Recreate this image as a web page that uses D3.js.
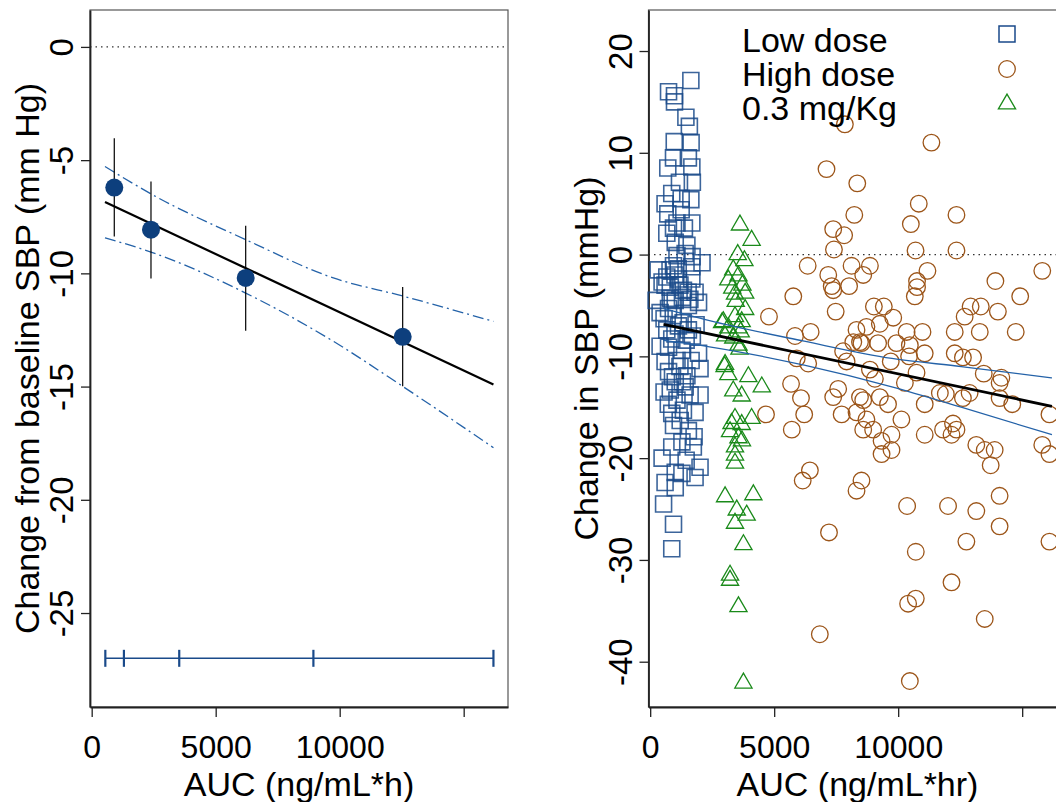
<!DOCTYPE html>
<html>
<head>
<meta charset="utf-8">
<script src="https://cdn.jsdelivr.net/npm/d3@7"></script>
<style>
  body { margin: 0; background: #fff; }
  text { font-family: "Liberation Sans", Arial, sans-serif; fill: #000; }
</style>
</head>
<body>
<div class="canvas"></div>
<script>
// ---- data ----
// left panel: quartile bins of AUC
const binAUC = [911, 2391, 6210, 12540]
const binMean = [-6.21, -8.07, -10.2, -12.8]
const binLow = [-8.37, -10.23, -12.53, -14.99]
const binHigh = [-4.03, -5.94, -7.9, -10.6]
const binEdges = [550, 1300, 3530, 8940, 16200]
const rugLevel = -27

// linear fit and its confidence band
const fitX = [536, 16200]
const fitY = [-6.85, -14.91]
const bandX = [536, 2391, 6210, 9745, 12540, 16200]
const bandUpper = [-5.28, -6.49, -8.51, -10.2, -11.0, -12.12]
const bandLower = [-8.43, -9.06, -10.87, -13.0, -14.99, -17.70]

// right panel: individual subjects [AUC, change]
const lowDose = [[1640,17.1],[740,16.0],[980,15.6],[980,15.0],[1440,13.5],[1580,12.6],[970,11.1],[1650,11.0],[940,9.5],[1540,9.5],[710,8.5],[1680,8.6],[1180,7.1],[1700,7.1],[870,6.0],[600,5.0],[1250,5.5],[1640,5.4],[710,4.0],[1250,4.4],[1080,3.1],[1680,3.1],[670,2.1],[940,2.6],[1380,2.6],[1010,1.2],[1480,0.9],[1080,-0.1],[1410,0.1],[940,-1.1],[1680,-1.2],[670,-2.2],[1140,-2.4],[1680,-2.4],[810,-3.2],[1340,-3.5],[1950,-4.7],[1010,-4.5],[740,-5.3],[1540,-5.0],[670,-7.4],[1140,-7.0],[1540,-7.4],[870,-8.3],[1950,-9.7],[740,-9.1],[1280,-9.4],[1080,-10.4],[2010,-11.2],[740,-11.5],[1480,-11.9],[1010,-12.5],[810,-13.3],[1410,-13.0],[1080,-14.3],[1810,-15.5],[870,-15.6],[1340,-15.3],[940,-16.8],[1540,-17.3],[870,-18.9],[1740,-18.9],[1280,-18.4],[2010,-20.9],[1010,-21.4],[1810,-21.9],[600,-22.4],[1280,-21.5],[1010,-22.9],[540,-24.5],[940,-26.5],[870,-28.9],[480,-2.7],[1530,-3.7],[810,-4.3],[1810,-3.7],[2090,-0.8],[320,-1.5],[560,-6.3],[1850,-6.9],[400,-9.0],[1650,-10.4],[1330,-6.7],[930,-6.0],[2010,-13.8],[730,-14.7],[1610,-13.8],[1210,-16.3],[1130,-1.4],[1690,-0.2],[400,-5.7],[1450,-8.4],[560,-13.5],[1770,-17.9],[480,-20.0],[1450,-20.2],[240,-4.5],[600,-3.0],[1200,-3.0],[1000,-2.0],[1600,-4.4],[800,-1.5],[1300,-4.2],[600,-10.5],[1200,-11.0],[900,-12.0],[1700,-8.0],[1000,-7.8],[1300,-12.5]]

const highDose = [[7850,12.8],[7110,8.4],[8350,7.0],[8230,3.9],[7380,2.5],[7820,1.9],[7410,0.5],[6350,-1.1],[7180,-2.0],[8120,-1.1],[7320,-3.1],[8020,-3.1],[8590,-2.0],[5770,-4.1],[7480,-5.6],[4790,-6.1],[5840,-8.0],[6470,-7.6],[8190,-8.6],[8460,-8.6],[5910,-10.2],[6370,-10.7],[7920,-10.5],[5680,-12.7],[6080,-14.1],[4670,-15.7],[6210,-15.7],[5710,-17.2],[7380,-14.0],[7580,-13.2],[7720,-15.7],[8460,-14.0],[8320,-15.5],[8590,-17.2],[6150,-22.2],[6440,-21.2],[8320,-23.2],[8520,-22.2],[7210,-27.3],[6840,-37.3],[11340,11.0],[10830,5.0],[12350,3.9],[10510,3.0],[10700,0.4],[12350,0.4],[8860,-1.1],[11180,-1.6],[10760,-2.6],[10760,-3.2],[10670,-4.1],[15810,-1.6],[13920,-2.6],[14920,-4.1],[9020,-5.1],[9420,-5.1],[9800,-6.2],[8720,-7.1],[9260,-6.8],[10340,-7.6],[10980,-7.6],[12920,-5.1],[13330,-5.1],[12680,-6.1],[14020,-5.6],[12280,-7.6],[13290,-7.6],[14740,-7.6],[8520,-8.7],[9190,-8.7],[9930,-8.7],[11070,-9.7],[10440,-10.0],[9700,-10.5],[12280,-9.7],[12610,-10.1],[13020,-10.1],[10740,-11.6],[13450,-11.7],[14160,-12.1],[14090,-12.6],[10270,-12.6],[8860,-11.3],[9060,-12.2],[11680,-13.6],[11920,-13.7],[12880,-13.6],[12610,-14.1],[14090,-14.1],[14600,-14.7],[11070,-14.7],[9590,-14.7],[9260,-14.0],[8590,-14.3],[16100,-15.7],[10130,-16.2],[8720,-16.2],[8990,-17.2],[9730,-17.7],[9330,-18.3],[9730,-19.2],[9330,-19.6],[11070,-17.7],[11810,-17.2],[12210,-16.6],[12350,-17.2],[12150,-17.7],[13150,-18.7],[13490,-19.2],[13890,-19.2],[13730,-20.7],[15810,-18.7],[16100,-19.6],[10360,-24.7],[12010,-24.7],[13150,-25.2],[14090,-23.7],[14090,-26.7],[12750,-28.2],[16100,-28.2],[10710,-29.2],[12150,-32.2],[10400,-34.3],[10710,-33.8],[13490,-35.8],[10470,-41.9],[7380,-3.5],[8320,-7.4],[10470,-8.9],[7780,-9.5]]

const midDose = [[3620,3.0],[4090,1.5],[3530,0.1],[3800,-0.5],[3350,-1.4],[3150,-2.4],[3560,-2.0],[3720,-2.9],[3310,-3.2],[3830,-3.7],[3420,-3.8],[3830,-5.3],[2950,-6.5],[3420,-6.0],[3690,-6.5],[3150,-7.1],[3560,-7.1],[3020,-7.9],[3350,-8.1],[3560,-8.8],[3020,-10.7],[3150,-11.7],[3960,-11.9],[4500,-12.9],[3350,-13.3],[3690,-13.8],[3420,-16.0],[4090,-16.0],[3220,-17.3],[3690,-16.6],[3560,-17.9],[3420,-18.8],[3420,-19.6],[3420,-20.4],[3020,-23.7],[4160,-23.5],[3490,-25.0],[3890,-25.5],[3420,-26.3],[3760,-28.4],[3220,-31.4],[3220,-31.9],[3560,-34.5],[3760,-42.0],[2900,-6.6],[3450,-4.5],[3650,-7.5],[3280,-16.5],[3600,-9.2],[3000,-10.9],[3700,-18.2]]

const legendLabels = ['Low dose', 'High dose', '0.3 mg/Kg']
const xTicks = [0, 5000, 10000, 15000]
const xTickLabels = ['0', '5000', '10000', '']
const leftYTicks = [0, -5, -10, -15, -20, -25]
const rightYTicks = [20, 10, 0, -10, -20, -30, -40]

// ---- layout ----
const W = 1056, H = 802
const plotTop = 10, plotBottom = 707
const navy = '#0d3f7d', sqBlue = '#1a4a8a', bandBlue = '#2462a8'
const brown = '#9c5519', green = '#1a8a1a'

const svg = d3.select('.canvas').append('svg')
  .attr('width', W).attr('height', H)

const xDomain = [-68, 16787]

const drawFrame = (g, x, y, yTicks, xTitle, yTitle) => {
  const [x0, x1] = x.range()
  g.append('rect')
    .attr('x', x0).attr('y', plotTop)
    .attr('width', x1 - x0).attr('height', plotBottom - plotTop)
    .attr('fill', 'none').attr('stroke', '#555').attr('stroke-width', 1.2)

  // zero reference
  g.append('line')
    .attr('x1', x0).attr('x2', x1)
    .attr('y1', y(0)).attr('y2', y(0))
    .attr('stroke', '#333').attr('stroke-width', 1.3)
    .attr('stroke-dasharray', '1.5,4')

  const yAxis = g.append('g')
    .attr('transform', `translate(${x0},0)`)
    .call(d3.axisLeft(y).tickValues(yTicks).tickSize(9).tickSizeOuter(0).tickFormat(d => String(d)))
  yAxis.select('.domain').attr('stroke', '#222').attr('stroke-width', 1.8)
  yAxis.selectAll('.tick line').attr('stroke', '#222').attr('stroke-width', 1.3)
  yAxis.selectAll('text')
    .attr('transform', 'rotate(-90)')
    .attr('x', 0).attr('y', -17).attr('dy', 0)
    .attr('text-anchor', 'middle')
    .style('font-size', '33px')
    .style('font-family', '"Liberation Sans", Arial, sans-serif')
    .attr('fill', '#000')

  const xAxis = g.append('g')
    .attr('transform', `translate(0,${plotBottom})`)
    .call(d3.axisBottom(x).tickValues(xTicks).tickSize(10).tickSizeOuter(0)
      .tickFormat((d, i) => xTickLabels[i]))
  xAxis.select('.domain').attr('stroke', '#222').attr('stroke-width', 1.8)
  xAxis.selectAll('.tick line').attr('stroke', '#222').attr('stroke-width', 1.3)
  xAxis.selectAll('text')
    .attr('y', 51).attr('dy', 0)
    .style('font-size', '32px')
    .style('font-family', '"Liberation Sans", Arial, sans-serif')
    .attr('fill', '#000')

  g.append('text')
    .attr('x', (x0 + x1) / 2).attr('y', 796)
    .attr('text-anchor', 'middle')
    .style('font-size', '34px')
    .text(xTitle)

  g.append('text')
    .attr('transform', `translate(${x0 - 51},${(plotTop + plotBottom) / 2}) rotate(-90)`)
    .attr('text-anchor', 'middle')
    .style('font-size', '34px')
    .text(yTitle)
}

// ================= left panel =================
const xL = d3.scaleLinear().domain(xDomain).range([90, 508])
const yL = d3.scaleLinear().domain([-29.15, 1.63]).range([plotBottom, plotTop])
const left = svg.append('g')

drawFrame(left, xL, yL, leftYTicks, 'AUC (ng/mL*h)', 'Change from baseline SBP (mm Hg)')

const bandL = d3.line().x(d => xL(d[0])).y(d => yL(d[1])).curve(d3.curveMonotoneX)
;[bandUpper, bandLower].forEach(b => {
  left.append('path')
    .attr('d', bandL(bandX.map((v, i) => [v, b[i]])))
    .attr('fill', 'none')
    .attr('stroke', bandBlue).attr('stroke-width', 1.3)
    .attr('stroke-dasharray', '11,4,2,4')
})

left.append('path')
  .attr('d', d3.line().x(d => xL(d[0])).y(d => yL(d[1]))(fitX.map((v, i) => [v, fitY[i]])))
  .attr('stroke', '#000').attr('stroke-width', 2.2).attr('fill', 'none')

// error bars
left.selectAll('line.err').data(binAUC).enter().append('line')
  .attr('class', 'err')
  .attr('x1', d => xL(d)).attr('x2', d => xL(d))
  .attr('y1', (d, i) => yL(binLow[i])).attr('y2', (d, i) => yL(binHigh[i]))
  .attr('stroke', '#000').attr('stroke-width', 1.2)

left.selectAll('circle.bin').data(binAUC).enter().append('circle')
  .attr('class', 'bin')
  .attr('cx', d => xL(d)).attr('cy', (d, i) => yL(binMean[i]))
  .attr('r', 9)
  .attr('fill', navy)

// bin boundaries rug
left.append('line')
  .attr('x1', xL(binEdges[0])).attr('x2', xL(binEdges[binEdges.length - 1]))
  .attr('y1', yL(rugLevel)).attr('y2', yL(rugLevel))
  .attr('stroke', sqBlue).attr('stroke-width', 1.5)
left.selectAll('line.edge').data(binEdges).enter().append('line')
  .attr('class', 'edge')
  .attr('x1', d => xL(d)).attr('x2', d => xL(d))
  .attr('y1', yL(rugLevel) - 8.5).attr('y2', yL(rugLevel) + 8.5)
  .attr('stroke', sqBlue).attr('stroke-width', 2.2)

// ================= right panel =================
const xR = d3.scaleLinear().domain(xDomain).range([648.5, 1066.5])
const yR = d3.scaleLinear().domain([-44.45, 24.03]).range([plotBottom, plotTop])
const right = svg.append('g')

drawFrame(right, xR, yR, rightYTicks, 'AUC (ng/mL*hr)', 'Change in SBP (mmHg)')

const square = d3.symbol(d3.symbolSquare, 256)
const triangle = d3.symbol(d3.symbolTriangle, 128)

right.append('g').selectAll('path').data(lowDose).enter().append('path')
  .attr('d', square)
  .attr('transform', d => `translate(${xR(d[0])},${yR(d[1])})`)
  .attr('fill', 'none').attr('stroke', sqBlue).attr('stroke-width', 1.6)
  .attr('stroke-opacity', 0.85)

right.append('g').selectAll('circle').data(highDose).enter().append('circle')
  .attr('cx', d => xR(d[0])).attr('cy', d => yR(d[1]))
  .attr('r', 8.3)
  .attr('fill', 'none').attr('stroke', brown).attr('stroke-width', 1.3)

right.append('g').selectAll('path').data(midDose).enter().append('path')
  .attr('d', triangle)
  .attr('transform', d => `translate(${xR(d[0])},${yR(d[1]) + 1})`)
  .attr('fill', 'none').attr('stroke', green).attr('stroke-width', 1.3)

const bandR = d3.line().x(d => xR(d[0])).y(d => yR(d[1])).curve(d3.curveMonotoneX)
;[bandUpper, bandLower].forEach(b => {
  right.append('path')
    .attr('d', bandR(bandX.map((v, i) => [v, b[i]])))
    .attr('fill', 'none')
    .attr('stroke', bandBlue).attr('stroke-width', 1.3)
})
right.append('path')
  .attr('d', bandR(fitX.map((v, i) => [v, fitY[i]])))
  .attr('stroke', '#000').attr('stroke-width', 2.8).attr('fill', 'none')

// legend
const legend = right.append('g')
legend.selectAll('text').data(legendLabels).enter().append('text')
  .attr('x', 742).attr('y', (d, i) => 52 + i * 34)
  .style('font-size', '34px')
  .text(d => d)

const lx = 1007
legend.append('path').attr('d', square)
  .attr('transform', `translate(${lx},34)`)
  .attr('fill', 'none').attr('stroke', sqBlue).attr('stroke-width', 1.5)
legend.append('circle').attr('cx', lx).attr('cy', 69).attr('r', 8.3)
  .attr('fill', 'none').attr('stroke', brown).attr('stroke-width', 1.3)
legend.append('path').attr('d', triangle)
  .attr('transform', `translate(${lx},104)`)
  .attr('fill', 'none').attr('stroke', green).attr('stroke-width', 1.3)
</script>
</body>
</html>
